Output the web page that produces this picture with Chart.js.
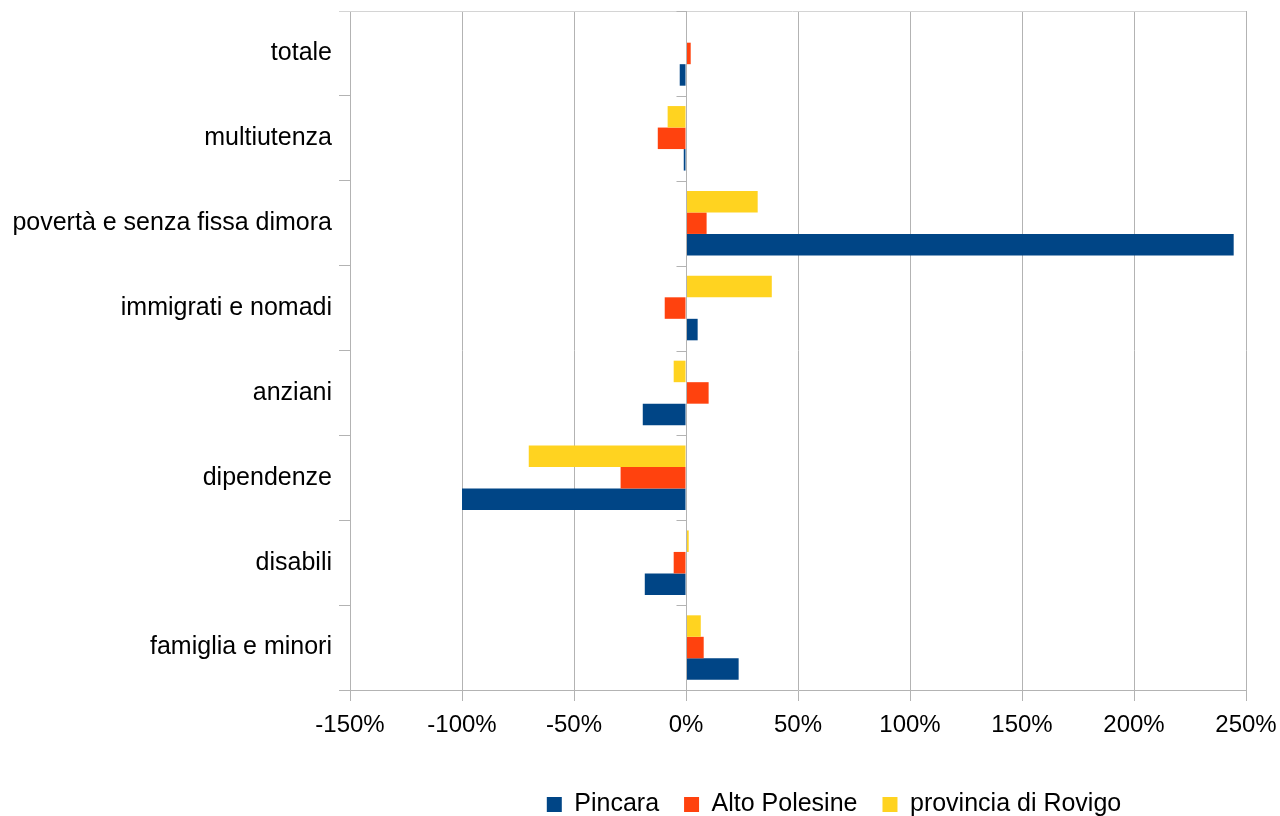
<!DOCTYPE html>
<html lang="it">
<head>
    <meta charset="UTF-8">
    <title>Variazione utenti per area</title>
    <script src="https://cdn.jsdelivr.net/npm/chart.js"></script>
    <style>
        body { margin: 0; background: #fff; }
        #wrap { width: 1280px; height: 816px; }
    </style>
</head>
<body>
    <div id="wrap">
        <canvas id="barChart" width="1280" height="816"></canvas>
    </div>
    <script>
        // categories, top to bottom as in the picture
        var categories = ['totale', 'multiutenza', 'povertà e senza fissa dimora', 'immigrati e nomadi',
            'anziani', 'dipendenze', 'disabili', 'famiglia e minori'];

        // percent change per area
        var pincara = [-2.8, -1, 244.5, 5.2, -19.3, -100, -18.4, 23.5];
        var altoPolesine = [2.1, -12.6, 9.2, -9.5, 10.1, -29.2, -5.5, 7.9];
        var provinciaRovigo = [0.3, -8.2, 32, 38.3, -5.5, -70.2, 1.2, 6.6];

        var xTicks = [-150, -100, -50, 0, 50, 100, 150, 200, 250];

        var gridColor = '#b3b3b3';
        var labelFont = { family: 'Liberation Sans', size: 25 };
        var tickFont = { family: 'Liberation Sans', size: 24 };

        // small extras: top border, ticks on the zero line, legend position
        var extras = {
            id: 'extras',
            afterLayout: function (chart) {
                var lg = chart.legend;
                lg.left += 211; lg.right += 211;
                lg.top += 11; lg.bottom += 11;
            },
            afterDatasetsDraw: function (chart) {
                var ctx = chart.ctx, area = chart.chartArea;
                var x = chart.scales.x, y = chart.scales.y;
                var x0 = Math.round(x.getPixelForValue(0)) + 0.5;
                var n = categories.length;
                ctx.save();
                ctx.lineWidth = 1;
                ctx.strokeStyle = '#d4d4d4';
                ctx.beginPath();
                ctx.moveTo(area.left - 11, area.top + 0.5);
                ctx.lineTo(area.right, area.top + 0.5);
                ctx.stroke();
                ctx.strokeStyle = gridColor;
                ctx.beginPath();
                for (var i = 0; i <= n; i++) {
                    var py = Math.round(y.top + i * y.height / n) + 0.5;
                    ctx.moveTo(x0 - 10, py);
                    ctx.lineTo(x0, py);
                }
                ctx.moveTo(x0, area.top);
                ctx.lineTo(x0, area.bottom);
                ctx.stroke();
                ctx.restore();
            }
        };

        new Chart(document.getElementById('barChart'), {
            type: 'bar',
            data: {
                labels: categories,
                datasets: [
                    { label: 'provincia di Rovigo', data: provinciaRovigo, backgroundColor: '#ffd320' },
                    { label: 'Alto Polesine', data: altoPolesine, backgroundColor: '#ff420e' },
                    { label: 'Pincara', data: pincara, backgroundColor: '#004586' }
                ]
            },
            options: {
                indexAxis: 'y',
                responsive: false,
                animation: false,
                devicePixelRatio: 1,
                categoryPercentage: 0.76,
                barPercentage: 1,
                layout: { padding: { top: 11, right: 34, left: 0, bottom: 0 } },
                scales: {
                    x: {
                        min: -150,
                        max: 250,
                        afterBuildTicks: function (scale) {
                            scale.ticks = xTicks.map(function (v) { return { value: v }; });
                        },
                        afterFit: function (scale) {
                            scale.height = 66;
                            scale.paddingLeft = 0;
                            scale.paddingRight = 0;
                        },
                        grid: { color: gridColor, tickLength: 11 },
                        border: { color: gridColor },
                        ticks: {
                            color: '#000',
                            font: tickFont,
                            padding: 10,
                            maxRotation: 0,
                            callback: function (v) { return v + '%'; }
                        }
                    },
                    y: {
                        afterFit: function (scale) {
                            scale.width = 350;
                            scale.paddingTop = 0;
                            scale.paddingBottom = 0;
                        },
                        grid: { drawOnChartArea: false, color: gridColor, tickLength: 11 },
                        border: { color: gridColor },
                        ticks: { color: '#000', font: labelFont, padding: 7 }
                    }
                },
                plugins: {
                    tooltip: { enabled: false },
                    legend: {
                        position: 'bottom',
                        reverse: true,
                        labels: {
                            color: '#000',
                            font: labelFont,
                            boxWidth: 15,
                            boxHeight: 15,
                            padding: 25
                        }
                    }
                }
            },
            plugins: [extras]
        });
    </script>
</body>
</html>
